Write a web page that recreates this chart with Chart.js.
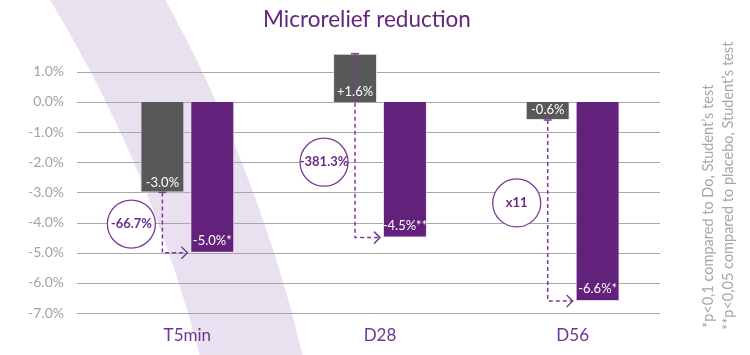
<!DOCTYPE html>
<html>
<head>
<meta charset="utf-8">
<script src="https://cdn.jsdelivr.net/npm/chart.js@4"></script>
<style>
html,body{margin:0;padding:0;background:#fff;}
canvas{display:block;}
</style>
</head>
<body>
<canvas id="c" width="750" height="355"></canvas>
<script>
// ---- data ----
const categories = ['T5min', 'D28', 'D56'];
const placeboValues = [-3.0, 1.6, -0.6];
const productValues = [-5.0, -4.5, -6.6];
const productMarks = ['*', '**', '*'];
const comparisonLabels = ['-66.7%', '-381.3%', 'x11'];
const yTickValues = [1, 0, -1, -2, -3, -4, -5, -6, -7];
const titleText = 'Microrelief reduction';
const footnotes = ['*p<0,1 compared to Do, Student\u2019s test', '**p<0,05 compared to placebo, Student\u2019s test'];

// ---- styling ----
const GRAY = '#58585a';
const PURPLE = '#62217a';
const LINE_PURPLE = '#7a3d97';
const FONT = 'Lato, "Open Sans", sans-serif';
// circle annotation placement (value units on y, px offset from placebo bar centre)
const circleY = [-4.05, -2.0, -3.35];
const circleDX = -31;

const fmt = v => (v > 0 ? '+' : '') + v.toFixed(1) + '%';

const decor = {
  id: 'decor',
  beforeDraw(chart) {
    const ctx = chart.ctx;
    const y = chart.scales.y;
    ctx.save();
    ctx.fillStyle = '#fff';
    ctx.fillRect(0, 0, chart.width, chart.height);
    // lavender arc
    ctx.beginPath();
    ctx.arc(-1076, 683, 1367, -Math.PI / 2, 0);
    ctx.strokeStyle = '#e9e0f0';
    ctx.lineWidth = 100;
    ctx.stroke();
    // grid
    ctx.strokeStyle = '#a8a8a8';
    ctx.lineWidth = 1;
    yTickValues.forEach(v => {
      const py = Math.round(y.getPixelForValue(v)) + 0.5;
      ctx.beginPath();
      ctx.moveTo(77, py);
      ctx.lineTo(660, py);
      ctx.stroke();
    });
    // title
    ctx.fillStyle = '#64257f';
    ctx.font = '22.5px ' + FONT;
    ctx.textAlign = 'center';
    ctx.textBaseline = 'alphabetic';
    ctx.fillText(titleText, 367, 27);
    ctx.restore();
  },
  afterDatasetsDraw(chart) {
    const ctx = chart.ctx;
    const y = chart.scales.y;
    const m0 = chart.getDatasetMeta(0).data;
    const m1 = chart.getDatasetMeta(1).data;
    ctx.save();
    // bar labels
    ctx.fillStyle = '#fff';
    ctx.font = '13px ' + FONT;
    ctx.textAlign = 'center';
    ctx.textBaseline = 'middle';
    m0.forEach((b, i) => {
      const bottom = Math.max(b.y, b.base);
      ctx.fillText(fmt(placeboValues[i]), b.x, bottom - 10);
    });
    m1.forEach((b, i) => {
      const bottom = Math.max(b.y, b.base);
      ctx.fillText(fmt(productValues[i]) + productMarks[i], b.x, bottom - 12);
    });
    // dashed connectors
    m0.forEach((b, i) => {
      const p = m1[i];
      const x0 = b.x;
      const y0 = y.getPixelForValue(placeboValues[i]);
      const y1 = y.getPixelForValue(productValues[i]);
      const x1 = p.x - p.width / 2 - 3;
      ctx.strokeStyle = LINE_PURPLE;
      ctx.lineWidth = 1.5;
      ctx.setLineDash([]);
      ctx.beginPath();
      ctx.moveTo(x0 - 4, y0); ctx.lineTo(x0 + 4, y0);
      ctx.stroke();
      ctx.setLineDash([4, 3]);
      ctx.beginPath();
      ctx.moveTo(x0, y0);
      ctx.lineTo(x0, y1);
      ctx.lineTo(x1, y1);
      ctx.stroke();
      ctx.setLineDash([]);
      ctx.beginPath();
      ctx.moveTo(x1 - 6, y1 - 6);
      ctx.lineTo(x1, y1);
      ctx.lineTo(x1 - 6, y1 + 6);
      ctx.stroke();
      // circle
      const cx = b.x + circleDX;
      const cy = y.getPixelForValue(circleY[i]);
      ctx.beginPath();
      ctx.arc(cx, cy, 24, 0, Math.PI * 2);
      ctx.fillStyle = '#fff';
      ctx.fill();
      ctx.lineWidth = 1.3;
      ctx.stroke();
      ctx.fillStyle = '#6a2c8a';
      ctx.font = 'bold 13px ' + FONT;
      ctx.fillText(comparisonLabels[i], cx, cy);
    });
    // footnotes
    ctx.fillStyle = '#a6a6a6';
    ctx.font = '14.5px ' + FONT;
    ctx.textAlign = 'left';
    ctx.textBaseline = 'alphabetic';
    const fx = [713, 733], fy = [328, 330];
    footnotes.forEach((t, i) => {
      ctx.save();
      ctx.translate(fx[i], fy[i]);
      ctx.rotate(-Math.PI / 2);
      ctx.fillText(t, 0, 0);
      ctx.restore();
    });
    ctx.restore();
  }
};

new Chart(document.getElementById('c'), {
  type: 'bar',
  data: {
    labels: categories,
    datasets: [
      { label: 'Placebo', data: placeboValues, backgroundColor: GRAY, borderColor: '#e4e4e4', borderWidth: 1,
        barPercentage: 0.88, categoryPercentage: 0.518 },
      { label: 'Product', data: productValues, backgroundColor: PURPLE, borderColor: '#e4dcea', borderWidth: 1,
        barPercentage: 0.88, categoryPercentage: 0.518 }
    ]
  },
  options: {
    responsive: false,
    animation: false,
    layout: { padding: { left: 0, right: 81, top: 41.6, bottom: 0 } },
    plugins: { legend: { display: false }, tooltip: { enabled: false }, title: { display: false } },
    scales: {
      x: {
        grid: { display: false, drawTicks: false },
        border: { display: false },
        ticks: { color: '#6d3590', font: { family: FONT, size: 17 }, padding: 12 },
        afterFit(s) { s.height = 42; }
      },
      y: {
        min: -7, max: 2,
        grid: { display: false, drawTicks: false },
        border: { display: false },
        afterBuildTicks(s) { s.ticks = yTickValues.map(v => ({ value: v })); },
        ticks: { color: '#a3a3a3', font: { family: FONT, size: 14 }, padding: 27,
          callback: v => v.toFixed(1) + '%' },
        afterFit(s) { s.width = 91; }
      }
    }
  },
  plugins: [decor]
});
</script>
</body>
</html>
